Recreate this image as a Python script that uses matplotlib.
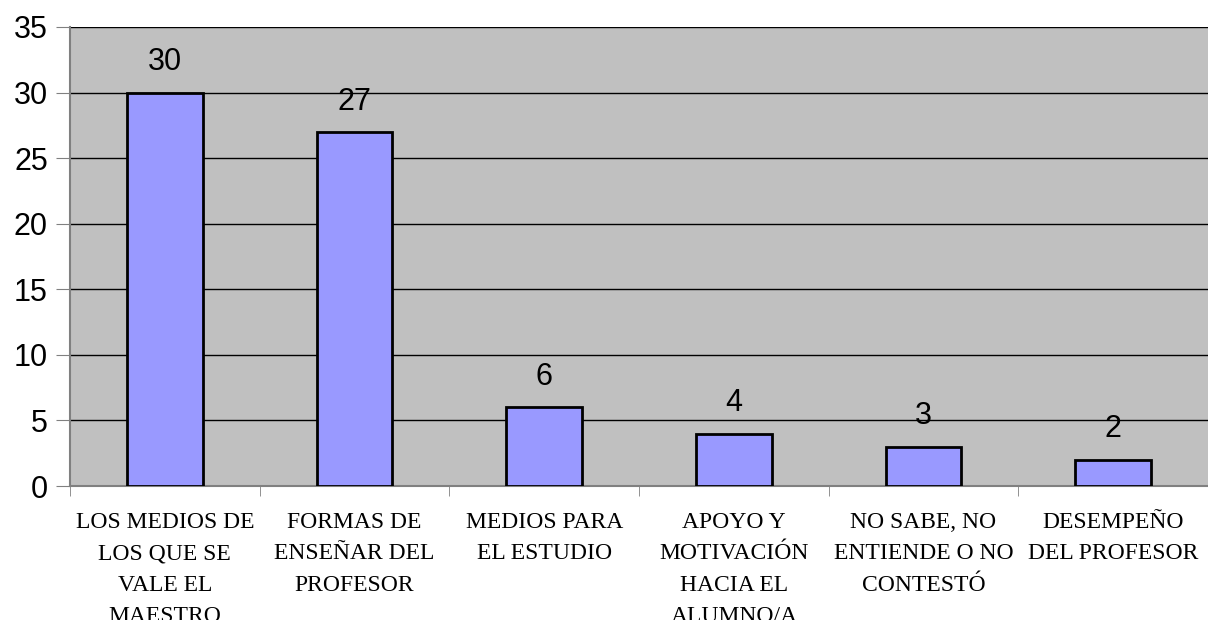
import matplotlib.pyplot as plt
import numpy as np

categories = [
    "LOS MEDIOS DE\nLOS QUE SE\nVALE EL\nMAESTRO",
    "FORMAS DE\nENSEÑAR DEL\nPROFESOR",
    "MEDIOS PARA\nEL ESTUDIO",
    "APOYO Y\nMOTIVACIÓN\nHACIA EL\nALUMNO/A",
    "NO SABE, NO\nENTIENDE O NO\nCONTESTÓ",
    "DESEMPEÑO\nDEL PROFESOR",
]
values = [30, 27, 6, 4, 3, 2]
yticks = [0, 5, 10, 15, 20, 25, 30, 35]

fig = plt.figure(figsize=(12.08, 6.2), dpi=100)
ax = fig.add_axes([70 / 1208, 134 / 620, 1138 / 1208, 459 / 620])
ax.set_facecolor("#C0C0C0")

x = np.arange(len(values))
ax.bar(x, values, width=0.4, color="#9999FF", edgecolor="black", linewidth=2, zorder=3)

for xi, v in zip(x, values):
    ax.annotate(str(v), (xi, v), xytext=(0, 11), textcoords="offset points",
                ha="center", va="bottom", fontsize=22, family="Liberation Sans")

ax.set_xlim(-0.5, len(values) - 0.5)
ax.set_ylim(0, 35)
ax.set_yticks(yticks)
ax.set_yticklabels([str(t) for t in yticks], fontsize=22, family="Liberation Sans")
ax.yaxis.grid(True, color="black", linewidth=1, zorder=1)
ax.set_axisbelow(True)

ax.set_xticks(x)
ax.set_xticklabels(categories, fontsize=17, family="Liberation Serif", linespacing=1.63, va="top")
ax.tick_params(axis="x", which="major", length=0, pad=19)
ax.set_xticks(np.arange(len(values)) - 0.5, minor=True)
ax.tick_params(axis="x", which="minor", length=7, color="gray")
ax.tick_params(axis="y", length=10, color="gray", pad=6)

for s in ["top", "right"]:
    ax.spines[s].set_visible(False)
ax.spines["left"].set_color("gray")
ax.spines["left"].set_linewidth(1.5)
ax.spines["bottom"].set_color("gray")
ax.spines["bottom"].set_linewidth(1.5)

plt.savefig("out.png", dpi=100)
